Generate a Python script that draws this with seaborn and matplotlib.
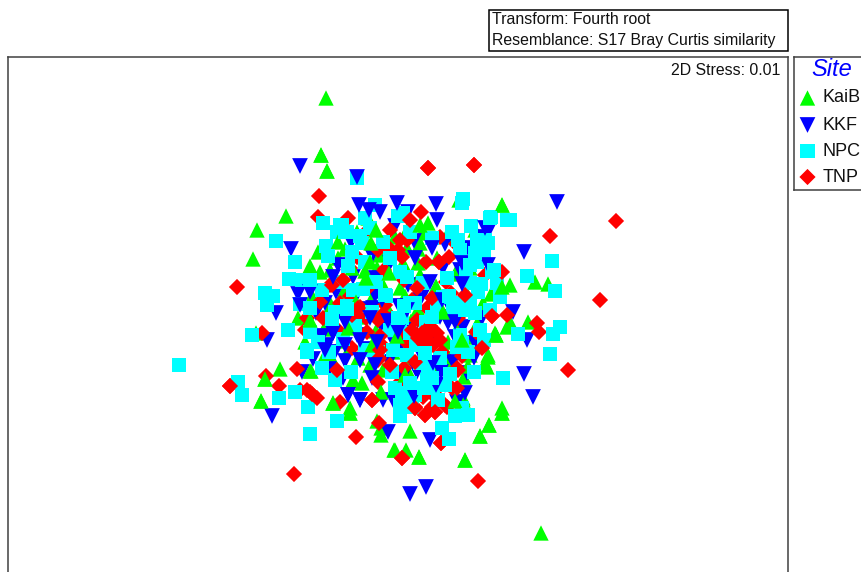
import matplotlib
matplotlib.use("Agg")
import matplotlib.pyplot as plt
from matplotlib.patches import Rectangle
import pandas as pd
import seaborn as sns

sites = ["KaiB", "KKF", "NPC", "TNP"]

# ordination positions (points, x right, y down)
KaiB_base = [(326,98),(321,155),(327,171),(286,216),(257,230),(253,259),(541,533),(465,460),(480,436),(489,425),
 (502,413),(419,457),(394,450),(406,450),(381,435),(350,413),(333,403),(261,401),(265,379),(280,369),(311,371),
 (256,333),(496,335),(510,285),(535,282),(548,284),(502,205),(459,200),(528,322),(510,322),(488,355),(487,367),
 (463,400),(377,421),(381,428),(410,431),(310,266),(320,272),(338,258),(357,232),(385,243),(395,237),(380,255),
 (400,288),(407,248),(377,268),(368,218),(422,233),(420,243),(447,235),(480,252),(418,263),(407,230),(483,303),
 (420,275),(475,230),(397,320),(350,347),(353,380),(333,361),(370,365),(362,383),(383,370),(305,342),(325,355),
 (350,408),(495,333),(488,357),(485,363),(470,355),(472,337),(445,350),(448,342),(410,358),(410,375),(413,393),
 (463,398),(438,368),(502,408),(458,327),(483,307),(507,327),
 (312,296),(331,305),(344,291),(361,317),(372,298),(389,311),(405,296),(418,309),(436,286),(452,316),(466,292),
 (478,322),(324,329),(341,341),(358,358),(376,331),(393,352),(411,321),(428,372),(447,361),(464,377),(476,344),
 (318,252),(345,249),(365,271),(384,287),(403,263),(437,258),(455,274),(470,268),(491,294),(298,318),(305,280)]
KaiB_top = [(338,242),(428,223),(376,230),(371,243),(370,262),(366,278),(389,273),(348,328),(502,287),(310,371),
 (496,335),(395,450),(419,457),(465,460),(480,436),(489,425),(502,413),(261,401),(265,379),(350,413),(333,403),
 (327,171),(321,155),(502,205),(356,302),(397,336),(443,312),(418,249),(381,392),(468,366),(330,270),(455,401),
 (310,320),(372,345),(405,375),(462,340),(420,225),(352,268)]
KKF_base = [(300,166),(557,202),(524,252),(436,204),(488,232),(410,494),(426,487),(533,397),(524,374),(272,416),
 (267,340),(276,313),(291,249),(298,294),(527,340),(513,312),(388,432),(430,440),(482,237),(353,277),(376,278),
 (390,263),(325,303),(375,295),(353,302),(408,212),(460,270),(492,275),(443,268),(373,308),(333,333),(327,345),
 (313,359),(335,352),(360,360),(377,342),(357,335),(302,372),(400,375),(348,395),(360,400),(383,400),(343,378),
 (407,398),(393,400),(448,323),(455,337),(435,343),(433,363),(453,362),(445,385),(478,337),(467,373),(465,393),
 (404,375),(457,402),(440,317),(413,330),(475,343),(395,345),(420,300),(385,320),
 (316,313),(336,292),(347,318),(366,309),(381,325),(399,306),(408,285),(425,291),(447,302),(463,327),(482,318),
 (322,336),(345,361),(368,349),(389,362),(419,351),(441,372),(458,351),(474,358),(351,242),(372,256),(395,226),
 (414,241),(445,244),(468,248),(338,265),(401,345),(417,372),(372,378),(329,369)]
KKF_top = [(359,205),(369,210),(380,212),(397,203),(333,277),(310,292),(432,248),(415,258),(462,263),(488,265),
 (430,282),(437,220),(485,228),(357,177),(333,333),(360,360),(377,342),(348,395),(360,400),(433,363),(388,321),
 (345,322),(370,318),(398,332),(407,310),(382,300),(360,340),(345,345),(455,322),(300,305),(325,350),(375,365),
 (442,300),(462,284),(414,396),(436,385)]
NPC_base = [(179,365),(238,382),(242,395),(310,434),(337,421),(295,392),(279,398),(252,335),(463,199),(491,217),
 (510,220),(552,261),(527,276),(555,291),(560,327),(553,334),(550,354),(518,334),(503,378),(449,439),(442,428),
 (468,415),(455,416),(357,178),(265,293),(273,296),(267,305),(289,279),(276,241),(295,262),(400,416),(342,225),
 (347,232),(337,232),(322,290),(353,290),(302,280),(375,205),(398,216),(365,218),(362,243),(383,242),(400,272),
 (386,296),(363,289),(347,306),(477,240),(485,240),(492,272),(460,250),(477,262),(497,283),(470,283),(500,297),
 (447,278),(407,277),(423,283),(410,303),(457,303),(470,302),(443,297),(403,213),(310,332),(307,352),(343,339),
 (365,350),(390,330),(400,320),(393,350),(322,368),(335,380),(395,388),(400,405),(308,407),(410,333),(402,318),
 (415,303),(453,308),(475,313),(480,330),(462,343),(407,355),(428,367),(433,387),(420,363),(427,380),(445,385),
 (402,393),(412,407),(457,347),(460,335),(462,408),
 (288,330),(300,304),(326,246),(352,252),(370,228),(390,258),(410,232),(432,238),(452,232),(471,226),(484,252),
 (466,273),(478,292),(490,310),(437,306),(426,322),(372,312),(355,326),(335,312),(318,342),(329,352),(351,372),
 (378,352),(416,345),(440,358),(468,352),(484,340),(392,372),(415,395),(438,400),(365,262),(376,282),(340,282)]
NPC_top = [(323,223),(328,256),(348,266),(310,280),(310,308),(332,319),(347,309),(432,317),(425,353),(450,374),
 (474,372),(490,218),(507,220),(462,203),(295,262),(289,279),(276,241),(527,276),(552,261),(555,291),(503,378),
 (468,415),(455,416),(442,428),(449,439),(337,421),(310,434),(295,392),(279,398),(360,236),(475,253),(488,243),
 (465,310),(449,296),(404,306),(481,284),(432,378),(410,383),(398,318),(345,232),(470,265),(494,270),(458,240),
 (340,225),(307,350),(385,295),(424,388)]
TNP_base = [(428,168),(474,165),(319,196),(616,221),(550,236),(600,300),(568,370),(237,287),(230,386),(294,474),
 (478,481),(402,458),(356,437),(441,443),(537,323),(539,332),(318,217),(266,376),(279,386),(300,390),(310,392),
 (297,369),(262,333),(379,423),(415,408),(425,415),(435,412),(445,405),(457,388),(492,316),(348,218),(390,230),
 (368,230),(357,257),(343,280),(330,285),(340,303),(398,250),(388,247),(440,237),(439,262),(426,262),(472,260),
 (407,240),(402,257),(427,308),(307,318),(323,318),(357,315),(360,307),(378,382),(372,400),(378,360),(400,333),
 (382,345),(367,332),(340,402),(417,320),(407,343),(462,356),(457,368),(452,388),(415,388),(423,397),(438,388),
 (433,395),(415,407),(432,407),(447,407),(430,380),(507,315),
 (320,302),(350,296),(368,288),(384,270),(404,280),(446,282),(458,318),(476,332),(352,348),(338,330),(392,318),
 (412,300),(366,318),(385,305),(442,352),(404,368),(398,384),(350,268),(378,250),(456,244),(485,275),(305,330)]
TNP_top = [(449,257),(502,272),(417,288),(432,298),(451,293),(465,295),(428,335),(437,333),(422,333),(482,348),
 (415,362),(378,320),(337,370),(307,390),(317,398),(390,365),(421,212),(410,220),(230,386),(428,168),(474,165),
 (402,458),(441,443),(425,415),(415,408),(435,412),(312,394),(418,338),(430,326),(440,340),(433,345),(424,344),
 (380,336),(380,350),(379,358),(352,315),(358,308),(383,314),(412,330),(332,285),(343,280),(372,400),(458,370),
 (492,316),(439,262),(400,240)]

colors = {"KaiB": "#00FF00", "KKF": "#0000FF", "NPC": "#00FFFF", "TNP": "#FF0000"}
markers = {"KaiB": "^", "KKF": "v", "NPC": "s", "TNP": "D"}
areas = {"KaiB": 122, "KKF": 128, "NPC": 102, "TNP": 68}

sns.set_style("white")
plt.rcParams["font.family"] = ["Liberation Sans", "DejaVu Sans"]

W, H = 861, 572
fig = plt.figure(figsize=(W / 100, H / 100), dpi=100, facecolor="white")
ax = fig.add_axes([7.5 / W, 1 - 610 / H, (788 - 7.5) / W, (610 - 57) / H])


def layer(points, site):
    df = pd.DataFrame(points, columns=["x", "y"])
    sns.scatterplot(data=df, x="x", y="y", ax=ax, marker=markers[site], color=colors[site],
                    s=areas[site], linewidth=0, edgecolor="none", legend=False, zorder=2)


layer(KaiB_base, "KaiB")
layer(KKF_base, "KKF")
layer(TNP_base, "TNP")
layer(NPC_base, "NPC")
layer(KaiB_top, "KaiB")
layer(TNP_top, "TNP")
layer(KKF_top, "KKF")
layer(NPC_top, "NPC")

ax.set_xlim(7.5, 788)
ax.set_ylim(610, 57)
ax.set_xticks([])
ax.set_yticks([])
ax.set_xlabel("")
ax.set_ylabel("")
for sp in ax.spines.values():
    sp.set_visible(True)
    sp.set_color("#404040")
    sp.set_linewidth(1.1)
ax.text(780, 70.5, "2D Stress: 0.01", ha="right", va="center", fontsize=11.4, color="#111111")

# Transform / resemblance box
fig.add_artist(Rectangle((488.5 / W, 1 - 50.5 / H), 299.5 / W, 40.5 / H, transform=fig.transFigure,
                         facecolor="white", edgecolor="black", linewidth=1.1))
fig.text(492 / W, 1 - 19 / H, "Transform: Fourth root", ha="left", va="center", fontsize=11.4, color="#111111")
fig.text(492 / W, 1 - 40 / H, "Resemblance: S17 Bray Curtis similarity", ha="left", va="center", fontsize=11.4,
         color="#111111")

# Site legend panel, running past the right edge of the picture
lax = fig.add_axes([794 / W, 1 - 190 / H, 100 / W, (190 - 57) / H])
lax.set_xticks([])
lax.set_yticks([])
lax.set_xlim(794, 894)
lax.set_ylim(190, 57)
for sp in lax.spines.values():
    sp.set_color("#404040")
    sp.set_linewidth(1.1)
lax.text(832, 70, "Site", ha="center", va="center", fontsize=17, style="italic", color="#0000FF")
legend_y = [98, 125, 151, 177]
for site, yy in zip(sites, legend_y):
    sns.scatterplot(x=[807.5], y=[yy], ax=lax, marker=markers[site], color=colors[site], s=areas[site],
                    linewidth=0, edgecolor="none", legend=False)
    lax.text(823, yy, site, ha="left", va="center", fontsize=13, color="#111111")
lax.set_xlabel("")
lax.set_ylabel("")

fig.savefig("out.png", dpi=100, facecolor="white")
